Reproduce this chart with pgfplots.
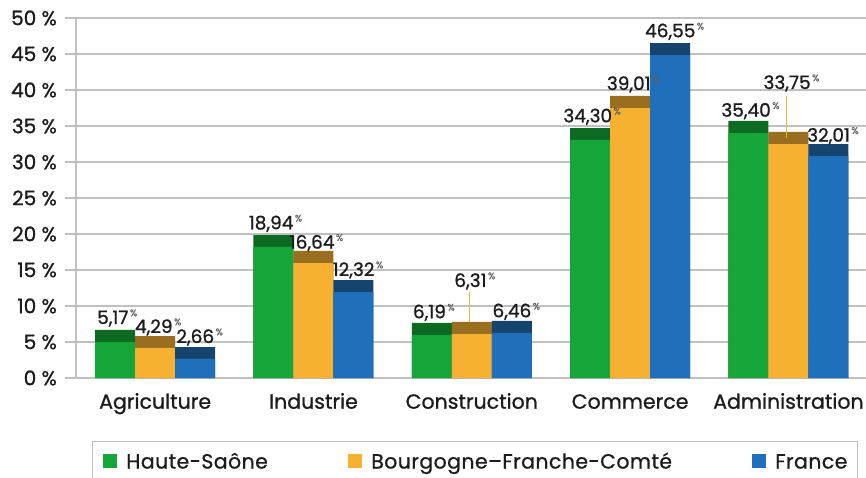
\documentclass[border=0pt]{standalone}
\usepackage{fontspec}
\setmainfont{Poppins}[FakeBold=1.0]
\newfontfamily\legfont{Poppins}[FakeBold=0.8, LetterSpace=2]
\usepackage{pgfplots}
\pgfplotsset{compat=1.18}
\definecolor{gA}{RGB}{22,165,57}
\definecolor{gB}{RGB}{13,106,35}
\definecolor{oA}{RGB}{246,177,51}
\definecolor{oB}{RGB}{154,110,31}
\definecolor{bA}{RGB}{31,111,186}
\definecolor{bB}{RGB}{21,69,111}
\definecolor{gridc}{RGB}{192,192,192}
\definecolor{txt}{RGB}{28,28,28}
\definecolor{pct}{RGB}{95,95,95}

% x, light part, top of dark cap
\pgfplotstableread{
x light top
0 5.00 6.67
1 18.20 19.86
2 5.97 7.64
3 33.06 34.72
4 34.00 35.70
}\hs
\pgfplotstableread{
x light top
0 4.20 5.83
1 15.97 17.64
2 6.10 7.78
3 37.50 39.17
4 32.50 34.17
}\bfc
\pgfplotstableread{
x light top
0 2.64 4.30
1 11.94 13.60
2 6.25 7.92
3 44.86 46.50
4 30.80 32.50
}\fr

\newcommand{\lab}[3]{\node[anchor=base, inner sep=0pt, text=txt, font=\fontsize{18.5}{18.5}\selectfont] at (axis cs:#1,#2) {#3\hspace{1.5pt}\raisebox{0.42em}{\fontsize{9.5}{9.5}\selectfont\color{pct}\%}};}

\begin{document}
\begin{tikzpicture}
\begin{axis}[
  at={(76pt,99pt)}, anchor=south west,
  scale only axis, width=790pt, height=360pt,
  xmin=-0.5, xmax=4.49, ymin=0, ymax=50,
  axis x line*=bottom, axis y line*=left,
  axis line style={draw=gridc, line width=1.3pt},
  ytick={0,5,...,50},
  yticklabels={0 \%,5 \%,10 \%,15 \%,20 \%,25 \%,30 \%,35 \%,40 \%,45 \%,50 \%},
  ymajorgrids, grid style={draw=gridc, line width=1.3pt},
  tick align=outside, major tick length=11pt,
  ytick style={draw=gridc, line width=1.3pt},
  xtick={0,...,4},
  xticklabels={Agriculture,Industrie,Construction,Commerce,Administration},
  xtick style={draw=none},
  ticklabel style={font=\fontsize{20.5}{20.5}\selectfont, text=txt},
  yticklabel style={anchor=east, inner sep=0pt, xshift=-8pt, font=\fontsize{20}{20}\selectfont},
  xticklabel style={anchor=base, inner sep=0pt, yshift=-19.7pt},
  clip=false,
  legend columns=3,
  legend style={at={(0.0206,-0.175)}, anchor=north west, draw=gridc, line width=1pt,
    inner xsep=10pt, inner ysep=11pt, column sep=0pt,
    font=\legfont\fontsize{20.5}{20.5}\selectfont,
    nodes={inner sep=0pt, anchor=base west, text=txt}},
  legend image code/.code={\fill[#1] (0pt,1pt) rectangle (14pt,15pt); \path (23.5pt,0pt);},
]
\addplot[ybar, bar width=40pt, bar shift=-40pt, fill=gB, draw=none, forget plot] table[x=x,y=top]{\hs};
\addplot[ybar, bar width=40pt, bar shift=-40pt, fill=gA, draw=none, forget plot] table[x=x,y=light]{\hs};
\addplot[ybar, bar width=40pt, bar shift=0pt, fill=oB, draw=none, forget plot] table[x=x,y=top]{\bfc};
\addplot[ybar, bar width=40pt, bar shift=0pt, fill=oA, draw=none, forget plot] table[x=x,y=light]{\bfc};
\addplot[ybar, bar width=40pt, bar shift=40pt, fill=bB, draw=none, forget plot] table[x=x,y=top]{\fr};
\addplot[ybar, bar width=40pt, bar shift=40pt, fill=bA, draw=none, forget plot] table[x=x,y=light]{\fr};

\addlegendimage{fill=gA, draw=none}
\addlegendentry{\makebox[221.5pt][l]{Haute-Saône}}
\addlegendimage{fill=oA, draw=none}
\addlegendentry{\makebox[380.5pt][l]{Bourgogne–Franche-Comté}}
\addlegendimage{fill=bA, draw=none}
\addlegendentry{\makebox[72.5pt][l]{France}}

% leader lines
\draw[oA, line width=1.2pt] (axis cs:1.988,7.8) -- (axis cs:1.988,11.9);
\draw[oA, line width=1.2pt] (axis cs:3.99,33.4) -- (axis cs:3.99,39.2);

\lab{-0.240}{7.50}{5,17}
\lab{0.019}{6.25}{4,29}
\lab{0.281}{4.86}{2,66}
\lab{0.760}{20.65}{18,94}
\lab{1.019}{17.96}{16,64}
\lab{1.281}{14.17}{12,32}
\lab{1.760}{8.29}{6,19}
\lab{2.019}{12.64}{6,31}
\lab{2.281}{8.43}{6,46}
\lab{2.760}{35.51}{34,30}
\lab{3.019}{40.00}{39,01}
\lab{3.281}{47.32}{46,55}
\lab{3.760}{36.29}{35,40}
\lab{4.019}{40.14}{33,75}
\lab{4.281}{32.82}{32,01}
\end{axis}
\pgfresetboundingbox
\useasboundingbox (0,0) rectangle (866pt,477pt);
\end{tikzpicture}
\end{document}
